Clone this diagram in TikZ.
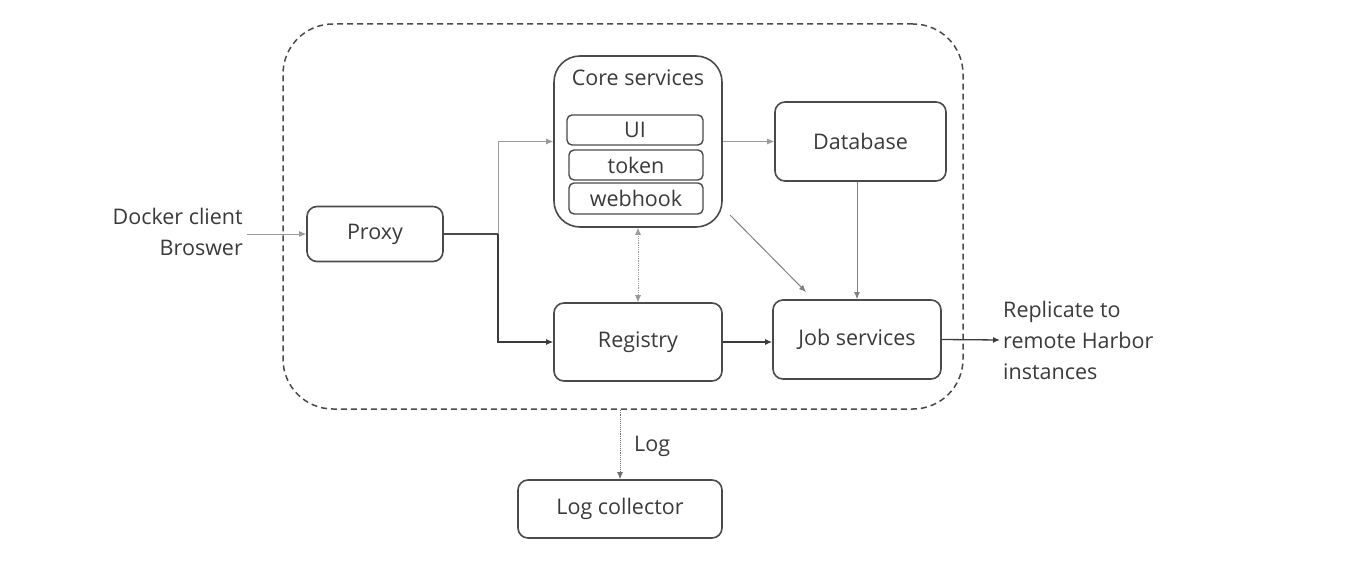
\documentclass[tikz,border=0pt]{standalone}
\usepackage{fontspec}
\setmainfont{Open Sans}
\usetikzlibrary{arrows.meta,calc}
\definecolor{boxline}{HTML}{4A4A4A}
\definecolor{txt}{HTML}{3A3A3A}
\definecolor{light}{HTML}{9A9A9A}
\begin{document}
\begin{tikzpicture}[x=1pt,y=-1pt,
  font=\fontsize{21.5}{31}\selectfont, text=txt,
  box/.style={draw=boxline, line width=1.6pt, rounded corners=10pt, inner sep=0pt},
  sub/.style={draw=boxline, line width=1.4pt, rounded corners=5pt, inner sep=0pt, minimum width=134pt, minimum height=30pt},
  conn/.style={draw=boxline!80!black, line width=1.3pt, -{Latex[length=7pt,width=6pt]}},
  lconn/.style={draw=light, line width=0.9pt, -{Latex[length=7pt,width=6pt]}},
]
\useasboundingbox (0,0) rectangle (1357,575);
\node[draw=boxline, dashed, dash pattern=on 6pt off 4pt, line width=1.5pt, rounded corners=50pt,
      minimum width=680pt, minimum height=385pt, inner sep=0pt] (outer) at (623,216.5) {};
\node[box, minimum width=136pt, minimum height=55pt] (proxy) at (375,234) {Proxy};
\node[box, rounded corners=26pt, minimum width=168pt, minimum height=171pt] (core) at (638,141.5) {};
\node[inner sep=0pt] (coretitle) at (638,78) {Core services};
\node[sub, minimum width=136pt] (ui) at (635,130) {UI};
\node[sub] (token) at (636,165) {token};
\node[sub, minimum height=31pt] (webhook) at (636,198.5) {webhook};
\node[box, minimum width=171pt, minimum height=79pt] (db) at (860.5,141.5) {Database};
\node[box, minimum width=168pt, minimum height=78pt] (reg) at (638,342) {Registry};
\node[box, minimum width=168pt, minimum height=79pt] (job) at (857,339.5) {Job services};
\node[box, minimum width=204pt, minimum height=58pt] (logc) at (620,509) {Log collector};
\node[anchor=east, align=right, inner sep=0pt] (client) at (243,232) {Docker client\\Broswer};
\node[anchor=west, align=left, inner sep=0pt] (repl) at (1003,340) {Replicate to\\remote Harbor\\instances};
\node[anchor=west, inner sep=0pt] (loglbl) at (634,446) {Log};
\coordinate (cin) at (247,234);
\coordinate (branch) at (498,234);
\coordinate (diagA) at (730,215);
\coordinate (diagB) at (806,292);
\coordinate (outend) at (1000,340);
% connectors
\draw[lconn] (cin) -- (proxy.west);
\draw[draw=boxline, line width=1.2pt] (proxy.east) -- (branch);
\draw[lconn] (branch) |- (core.west);
\draw[conn, line width=1.1pt] (branch) |- (reg.west);
\draw[lconn] (core.east) -- (db.west);
\draw[conn, line width=1pt, draw=boxline!70] (diagA) -- (diagB);
\draw[conn, line width=1pt, draw=boxline!70] (job.north |- db.south) -- (job.north);
\draw[draw=light, line width=0.8pt, densely dotted, {Latex[length=7pt,width=6pt]}-{Latex[length=7pt,width=6pt]}] (core.south) -- (reg.north);
\draw[conn] (reg.east) -- (reg.east -| job.west);
\draw[conn] (job.east) -- (outend);
\draw[draw=boxline!80, line width=0.9pt, densely dotted, -{Latex[length=7pt,width=6pt]}] (logc.north |- outer.south) -- (logc.north);
\end{tikzpicture}
\end{document}
